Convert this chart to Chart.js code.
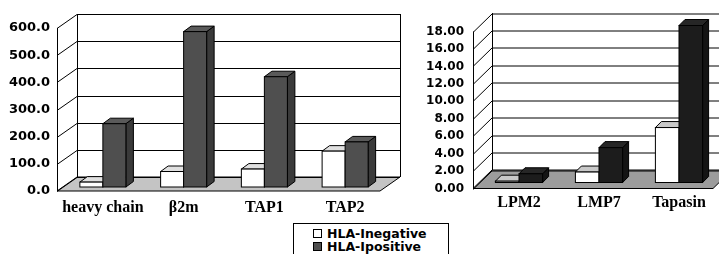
<!DOCTYPE html>
<html>
<head>
<meta charset="utf-8">
<script src="https://cdn.jsdelivr.net/npm/chart.js@4.4.1/dist/chart.umd.min.js"></script>
<style>
  html, body { margin: 0; padding: 0; background: #fff; }
  body { width: 719px; height: 254px; position: relative; overflow: hidden; }
  #c1 { position: absolute; left: 0; top: 0; }
  #c2 { position: absolute; left: 400px; top: 0; }
  #legend { position: absolute; left: 293px; top: 223px; width: 154px; height: 40px;
            border: 1px solid #000; background: #fff;
            font: bold 12.5px "DejaVu Sans", sans-serif; color: #000; }
  .item { position: absolute; left: 19px; height: 13px; line-height: 13px; white-space: nowrap; }
  .sw { display: inline-block; width: 7px; height: 7px; border: 1px solid #000; margin-right: 5px; vertical-align: 0px; }
</style>
</head>
<body>
<canvas id="c1" width="405" height="254"></canvas>
<canvas id="c2" width="319" height="254"></canvas>
<div id="legend"></div>
<script>
// ---- data ----
const seriesNames = ['HLA-Inegative', 'HLA-Ipositive'];
const leftCategories = ['heavy chain', 'β2m', 'TAP1', 'TAP2'];
const leftNegative = [18, 57, 66, 132];
const leftPositive = [233, 572, 406, 166];
const leftTickStep = 100;
const leftMax = 600;
const rightCategories = ['LPM2', 'LMP7', 'Tapasin'];
const rightNegative = [0.15, 1.2, 6.3];
const rightPositive = [1.0, 4.0, 18.0];
const rightTickStep = 2;
const rightMax = 18;

// ---- 3D plugin: walls, floor and bars drawn from the library's scales/elements ----
const threeD = {
  id: 'threeD',
  beforeDatasetsDraw(chart) {
    const o = chart.options.plugins.threeD;
    const ctx = chart.ctx;
    const { left, right, bottom } = chart.chartArea;
    const y = chart.scales.y;
    const dx = o.dx, dy = o.dy;
    ctx.save();
    ctx.lineWidth = 1;
    ctx.strokeStyle = '#000';
    // floor
    ctx.beginPath();
    ctx.moveTo(left, bottom);
    ctx.lineTo(right, bottom);
    ctx.lineTo(right + dx, bottom - dy);
    ctx.lineTo(left + dx, bottom - dy);
    ctx.closePath();
    ctx.fillStyle = o.floor;
    ctx.fill();
    ctx.stroke();
    // back-wall gridlines and side-wall diagonals
    y.ticks.forEach(t => {
      const py = Math.round(y.getPixelForValue(t.value)) + 0.5;
      ctx.beginPath();
      ctx.moveTo(left + dx, py - dy);
      ctx.lineTo(right + dx, py - dy);
      ctx.stroke();
      ctx.beginPath();
      ctx.moveTo(left, py);
      ctx.lineTo(left + dx, py - dy);
      ctx.stroke();
    });
    const pTop = y.getPixelForValue(y.max), pBot = y.getPixelForValue(y.min);
    ctx.beginPath();
    ctx.moveTo(Math.round(left) + 0.5, pTop);
    ctx.lineTo(Math.round(left) + 0.5, pBot);
    ctx.moveTo(Math.round(left + dx) + 0.5, pTop - dy);
    ctx.lineTo(Math.round(left + dx) + 0.5, pBot - dy);
    ctx.moveTo(Math.round(right + dx) + 0.5, pTop - dy);
    ctx.lineTo(Math.round(right + dx) + 0.5, pBot - dy);
    ctx.stroke();
    // bars
    const metas = chart.data.datasets.map((d, i) => chart.getDatasetMeta(i));
    const n = chart.data.labels.length;
    for (let k = 0; k < n; k++) {
      metas.forEach((meta, di) => {
        const el = meta.data[k];
        const c = o.colors[di];
        const w = el.width;
        const l = el.x - w / 2 + o.bx, r = el.x + w / 2 + o.bx;
        const tp = el.y - o.by, bt = el.base - o.by;
        const ex = o.bdx, ey = o.bdy;
        ctx.strokeStyle = '#000';
        ctx.beginPath();
        ctx.moveTo(r, tp); ctx.lineTo(r + ex, tp - ey); ctx.lineTo(r + ex, bt - ey); ctx.lineTo(r, bt); ctx.closePath();
        ctx.fillStyle = c.side; ctx.fill(); ctx.stroke();
        ctx.beginPath();
        ctx.moveTo(l, tp); ctx.lineTo(l + ex, tp - ey); ctx.lineTo(r + ex, tp - ey); ctx.lineTo(r, tp); ctx.closePath();
        ctx.fillStyle = c.top; ctx.fill(); ctx.stroke();
        ctx.fillStyle = c.front;
        ctx.fillRect(l, tp, w, bt - tp);
        ctx.strokeRect(l, tp, w, bt - tp);
      });
    }
    ctx.restore();
    return false;
  }
};

function makeChart(id, cats, neg, pos, step, max, dec, cfg) {
  const canvas = document.getElementById(id);
  return new Chart(canvas, {
    type: 'bar',
    data: {
      labels: cats,
      datasets: [
        { label: seriesNames[0], data: neg, backgroundColor: cfg.colors[0].front },
        { label: seriesNames[1], data: pos, backgroundColor: cfg.colors[1].front }
      ]
    },
    options: {
      responsive: false,
      animation: false,
      devicePixelRatio: 1,
      layout: { padding: { top: cfg.top, right: cfg.right, left: 0, bottom: 0 } },
      datasets: { bar: { categoryPercentage: cfg.catPct, barPercentage: 1 } },
      plugins: {
        legend: { display: false },
        tooltip: { enabled: false },
        threeD: cfg
      },
      scales: {
        x: {
          grid: { display: false, drawTicks: false },
          border: { display: false },
          ticks: {
            color: '#000', maxRotation: 0, minRotation: 0, autoSkip: false,
            padding: cfg.xPad, labelOffset: cfg.bx,
            font: { family: '"Liberation Serif", "Times New Roman", serif', weight: 'bold', size: 16 }
          },
          afterFit(s) { s.height = cfg.xHeight; }
        },
        y: {
          min: 0, max: max,
          grid: { display: false, drawTicks: false },
          border: { display: false },
          ticks: {
            stepSize: step, color: '#000', padding: cfg.yPad,
            font: { family: '"DejaVu Sans", sans-serif', weight: 'bold', size: cfg.yFont },
            callback: v => Number(v).toFixed(dec)
          },
          afterFit(s) { s.width = cfg.yWidth; }
        }
      }
    },
    plugins: [threeD]
  });
}

makeChart('c1', leftCategories, leftNegative, leftPositive, leftTickStep, leftMax, 1, {
  dx: 20, dy: 14, bx: 5.5, by: 4, bdx: 7.5, bdy: 5.5,
  floor: '#c4c4c4',
  colors: [
    { front: '#ffffff', top: '#e0e0e0', side: '#d0d0d0' },
    { front: '#4f4f4f', top: '#5a5a5a', side: '#3a3a3a' }
  ],
  top: 28, right: 25, yWidth: 57, xHeight: 63, yPad: 7, xPad: 7, yFont: 13, catPct: 0.57
});

makeChart('c2', rightCategories, rightNegative, rightPositive, rightTickStep, rightMax, 2, {
  dx: 19, dy: 18.5, bx: 6, by: 6, bdx: 6, bdy: 6,
  floor: '#9c9c9c',
  colors: [
    { front: '#ffffff', top: '#c8c8c8', side: '#bdbdbd' },
    { front: '#1c1c1c', top: '#262626', side: '#141414' }
  ],
  top: 31.5, right: 6, yWidth: 73, xHeight: 65.5, yPad: 9, xPad: 5, yFont: 12, catPct: 0.59
});

// HTML legend built from the series names
const legendColors = ['#ffffff', '#4f4f4f'];
const lg = document.getElementById('legend');
seriesNames.forEach((name, i) => {
  const d = document.createElement('div');
  d.className = 'item';
  d.style.top = (3 + i * 13) + 'px';
  const sw = document.createElement('span');
  sw.className = 'sw';
  sw.style.background = legendColors[i];
  d.appendChild(sw);
  d.appendChild(document.createTextNode(name));
  lg.appendChild(d);
});
</script>
</body>
</html>
